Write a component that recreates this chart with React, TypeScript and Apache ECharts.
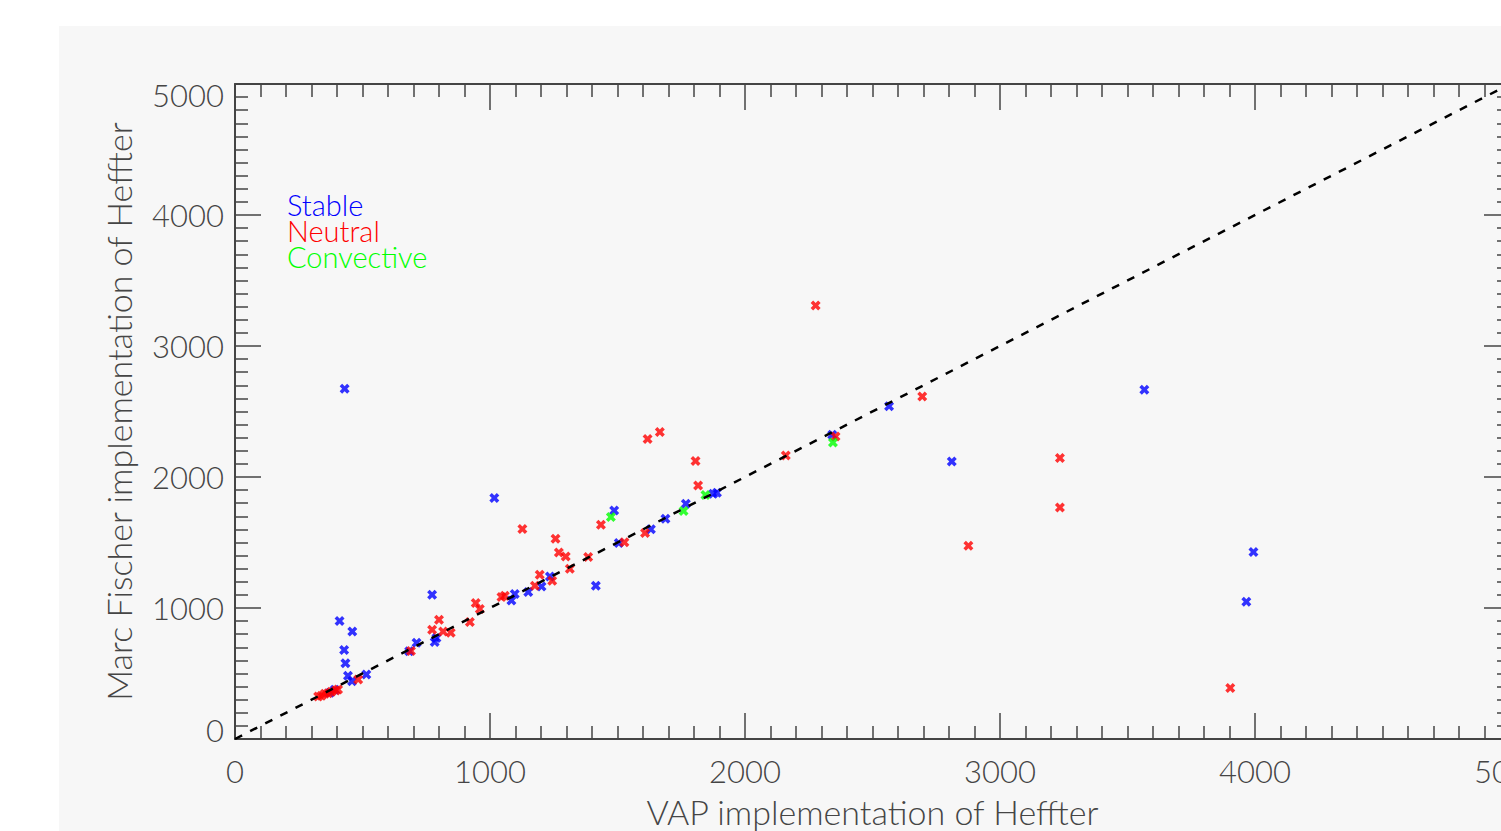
import React, { useEffect, useRef } from "react";
import * as echarts from "echarts";

// Mixing-height comparison: VAP vs. Marc Fischer implementation of Heffter
const stable: [number, number][] = [
  [430, 2674], [1017, 1840], [1487, 1745], [773, 1102], [1415, 1170],
  [1875, 1873], [1890, 1880], [1768, 1796], [1688, 1682], [1631, 1601],
  [1505, 1496], [1235, 1241], [1202, 1165], [1150, 1122], [1097, 1107],
  [1084, 1058], [712, 735], [790, 771], [783, 740], [683, 669],
  [410, 900], [460, 821], [428, 680], [433, 578], [443, 483],
  [459, 440], [515, 493], [391, 376], [372, 353], [2342, 2323],
  [2565, 2540], [2811, 2119], [3566, 2666], [3994, 1427], [3966, 1048],
];

const neutral: [number, number][] = [
  [1127, 1603], [1257, 1529], [1270, 1424], [1297, 1394], [1313, 1300],
  [1385, 1390], [1435, 1636], [1816, 1936], [1527, 1502], [1608, 1572],
  [1195, 1254], [1244, 1208], [1176, 1170], [1045, 1084], [1058, 1094],
  [944, 1038], [960, 992], [921, 893], [800, 911], [773, 834],
  [816, 821], [846, 811], [690, 672], [483, 455], [326, 325],
  [339, 330], [352, 345], [365, 350], [378, 360], [395, 370],
  [404, 378], [1618, 2291], [1666, 2343], [1806, 2122], [2160, 2165],
  [2355, 2310], [2277, 3310], [2695, 2615], [3235, 2145], [3235, 1768],
  [2876, 1476], [3903, 389],
];

const convective: [number, number][] = [
  [1474, 1695], [1845, 1862], [1759, 1740], [2345, 2264],
];

const oneToOne: [number, number][] = [
  [0, 0], [5000, 5000],
];

const legendItems = [
  { key: "s", name: "Stable", color: "#0000ff" },
  { key: "n", name: "Neutral", color: "#ff0000" },
  { key: "c", name: "Convective", color: "#00ff00" },
];

const FONT = "Lato, 'DejaVu Sans', sans-serif";
const WEIGHT = 300;
const INK = "#454545";
const CROSS =
  "path://M0,2.5 L2.5,0 L5,2.5 L7.5,0 L10,2.5 L7.5,5 L10,7.5 L7.5,10 L5,7.5 L2.5,10 L0,7.5 L2.5,5 Z";

const labelFont = { fontFamily: FONT, fontSize: 31, color: INK, fontWeight: WEIGHT };
const titleFont = { fontFamily: FONT, fontSize: 34, color: INK, fontWeight: WEIGHT };
const LEGEND_SIZE = 29;
const LEGEND_STEP = 26;

function axisBase(position: string) {
  return {
    position,
    min: 0,
    max: 5000,
    interval: 1000,
    axisLine: { show: true, onZero: false, lineStyle: { color: INK, width: 2 } },
    axisTick: { show: true, inside: true, length: 26, lineStyle: { color: INK, width: 1.5 } },
    minorTick: { show: true, splitNumber: 10, length: 13, lineStyle: { color: INK, width: 1.5 } },
    splitLine: { show: false },
    minorSplitLine: { show: false },
  };
}

export default function App() {
  const ref = useRef<HTMLDivElement>(null);

  useEffect(() => {
    document.body.style.margin = "0";
    const chart = echarts.init(ref.current!, undefined, { renderer: "svg" });
    const scatter = (name: string, data: [number, number][], color: string) => ({
      name,
      type: "scatter",
      data,
      symbol: CROSS,
      symbolSize: 10,
      itemStyle: { color },
      z: 2,
    });
    chart.setOption({
      animation: false,
      backgroundColor: "#f7f7f7",
      grid: { left: 176, top: 58, width: 1275, height: 655, outerBoundsMode: "none" },
      xAxis: [
        {
          ...axisBase("bottom"),
          name: "VAP implementation of Heffter",
          nameLocation: "middle",
          nameGap: 55,
          nameTextStyle: titleFont,
          axisLabel: { ...labelFont, margin: 16, formatter: (v: number) => String(v) },
        },
        { ...axisBase("top"), axisLabel: { show: false } },
      ],
      yAxis: [
        {
          ...axisBase("left"),
          name: "Marc Fischer implementation of Heffter",
          nameLocation: "middle",
          nameGap: 100,
          nameTextStyle: titleFont,
          axisLabel: {
            ...labelFont,
            margin: 11,
            // end labels sit just inside the axis range
            formatter: (v: number) =>
              v === 0 ? "{lo|0}" : v === 5000 ? "{hi|5000}" : String(v),
            rich: {
              lo: { ...labelFont, padding: [0, 0, 18, 0] },
              hi: { ...labelFont, padding: [22, 0, 0, 0] },
            },
          },
        },
        { ...axisBase("right"), axisLabel: { show: false } },
      ],
      graphic: [
        {
          type: "text",
          left: 228,
          top: 164,
          style: {
            text: legendItems.map((it) => `{${it.key}|${it.name}}`).join("\n"),
            font: `${WEIGHT} ${LEGEND_SIZE}px ${FONT}`,
            lineHeight: LEGEND_STEP,
            rich: Object.fromEntries(
              legendItems.map((it) => [
                it.key,
                {
                  fill: it.color,
                  fontFamily: FONT,
                  fontSize: LEGEND_SIZE,
                  fontWeight: WEIGHT,
                  lineHeight: LEGEND_STEP,
                },
              ])
            ),
          },
        },
      ],
      series: [
        scatter("Stable", stable, "#0000ff"),
        scatter("Neutral", neutral, "#ff0000"),
        scatter("Convective", convective, "#00ff00"),
        {
          type: "line",
          data: oneToOne,
          symbol: "none",
          lineStyle: { color: "#000", width: 2.5, type: [8, 9] },
          z: 3,
        },
      ],
    });
    return () => chart.dispose();
  }, []);

  return (
    <div
      style={{
        position: "fixed",
        left: 0,
        top: 0,
        width: 1501,
        height: 831,
        overflow: "hidden",
        background: "#ffffff",
      }}
    >
      <div
        ref={ref}
        style={{ position: "absolute", left: 59, top: 26, width: 1520, height: 805 }}
      />
    </div>
  );
}
